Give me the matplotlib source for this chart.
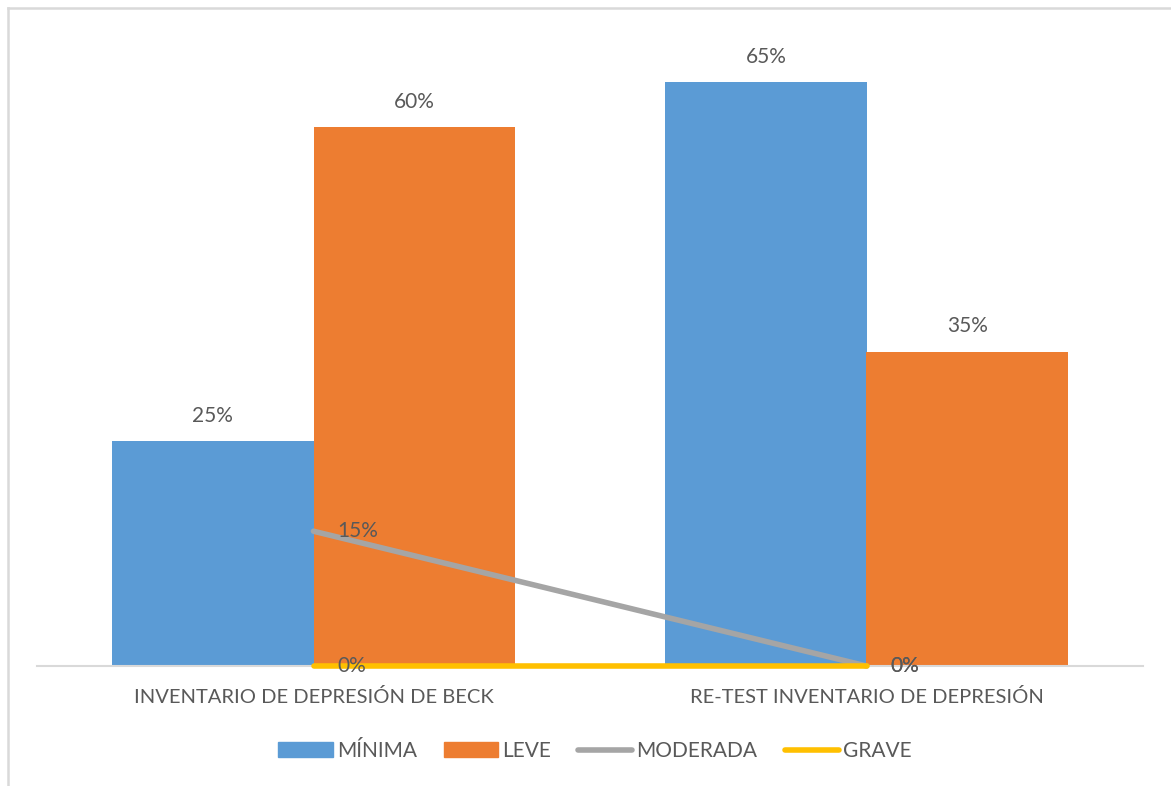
import matplotlib.pyplot as plt
from matplotlib.lines import Line2D
from matplotlib.patches import Patch
import numpy as np

plt.rcParams['font.family'] = ['Lato', 'DejaVu Sans']

categories = ["INVENTARIO DE DEPRESIÓN DE BECK", "RE-TEST INVENTARIO DE DEPRESIÓN"]
minima = [0.25, 0.65]
leve = [0.60, 0.35]
moderada = [0.15, 0.0]
grave = [0.0, 0.0]

blue = "#5B9BD5"
orange = "#ED7D31"
gray = "#A5A5A5"
yellow = "#FFC000"
txt = "#595959"

fig = plt.figure(figsize=(11.71, 7.86), dpi=100)
ax = fig.add_axes([37 / 1171, 120 / 786, 1106 / 1171, 629 / 786])

x = np.arange(len(categories))
w = 0.364
ax.bar(x - w / 2, minima, w, color=blue, zorder=2)
ax.bar(x + w / 2, leve, w, color=orange, zorder=2)
ax.plot(x, moderada, color=gray, lw=4, solid_capstyle='round', zorder=3, clip_on=False)
ax.plot(x, grave, color=yellow, lw=4, solid_capstyle='round', zorder=3, clip_on=False)

for i in range(len(x)):
    ax.annotate(f"{minima[i]:.0%}", (x[i] - w / 2, minima[i]), xytext=(0, 11),
                textcoords='offset points', ha='center', va='bottom', fontsize=15, color=txt)
    ax.annotate(f"{leve[i]:.0%}", (x[i] + w / 2, leve[i]), xytext=(0, 11),
                textcoords='offset points', ha='center', va='bottom', fontsize=15, color=txt)
    for vals in (moderada, grave):
        ax.annotate(f"{vals[i]:.0%}", (x[i], vals[i]), xytext=(17, 0),
                    textcoords='offset points', ha='left', va='center', fontsize=15,
                    color=txt, annotation_clip=False)

ax.set_xlim(-0.5, 1.5)
ax.set_ylim(0, 0.70)
ax.set_xticks(x)
ax.set_xticklabels(categories, fontsize=14.5, color=txt)
ax.tick_params(axis='x', length=0, pad=16)
ax.set_yticks([])
for s in ['top', 'right', 'left']:
    ax.spines[s].set_visible(False)
ax.spines['bottom'].set_color("#D9D9D9")
ax.spines['bottom'].set_linewidth(1.5)

handles = [Patch(color=blue), Patch(color=orange),
           Line2D([], [], color=gray, lw=4, solid_capstyle='round'),
           Line2D([], [], color=yellow, lw=4, solid_capstyle='round')]
fig.legend(handles, ["MÍNIMA", "LEVE", "MODERADA", "GRAVE"], loc='center',
           bbox_to_anchor=(595 / 1171, 1 - 751 / 786), ncol=4, frameon=False,
           fontsize=15, labelcolor=txt, handlelength=2.6, handleheight=0.7,
           handletextpad=0.2, columnspacing=1.3)

# partial chart border (top and left only)
fig.add_artist(Line2D([8 / 1171, 1], [1 - 8 / 786, 1 - 8 / 786], color="#D9D9D9", lw=1.8))
fig.add_artist(Line2D([8 / 1171, 8 / 1171], [0, 1 - 8 / 786], color="#D9D9D9", lw=1.8))

fig.savefig("out.png", dpi=100)
